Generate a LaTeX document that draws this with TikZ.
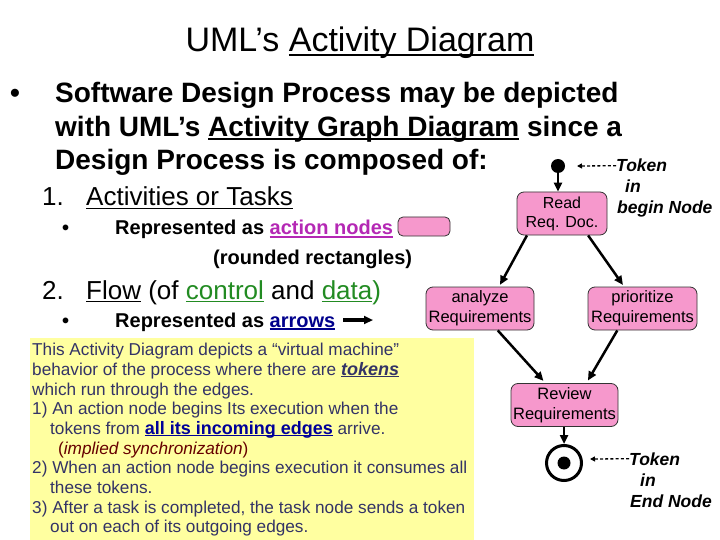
\documentclass[tikz,border=0pt]{standalone}
\usepackage{fontspec}
\setmainfont{Liberation Sans}
\usetikzlibrary{arrows.meta}

\definecolor{actpink}{RGB}{246,152,204}
\definecolor{noteyellow}{RGB}{255,255,160}
\definecolor{notetext}{RGB}{51,51,102}
\definecolor{actpurple}{RGB}{180,40,180}
\definecolor{flowgreen}{RGB}{34,139,34}
\definecolor{arrowblue}{RGB}{0,0,140}
\definecolor{edgeblue}{RGB}{0,0,153}
\definecolor{syncred}{RGB}{102,0,0}

% underline sitting just below the baseline
\newcommand{\ulw}[1]{\setbox0\hbox{#1}\rlap{\rule[-0.13em]{\wd0}{0.07em}}\box0\relax}
\newcommand{\fsz}[2]{\fontsize{#1}{#2}\selectfont}

\begin{document}
\begin{tikzpicture}[x=1pt, y=-1pt,
    txt/.style={anchor=base west, inner sep=0pt},
    note/.style={txt, font=\fsz{17.2}{19}, text=notetext},
    actnode/.style={draw=black!80, line width=0.8pt, fill=actpink, rounded corners=7pt,
                    align=center, minimum height=43pt, inner sep=1pt, font=\fsz{16.5}{20}},
    flow/.style={line width=2.5pt, -{Triangle[length=9pt,width=8pt]}},
    tokarrow/.style={line width=1.3pt, dash pattern=on 3pt off 2.2pt, -{Triangle[length=5pt,width=5pt]}},
    toklbl/.style={txt, font=\fsz{17.5}{20}\bfseries\itshape}]
\useasboundingbox (0,0) rectangle (720,540);

% title and bullets
\node[anchor=base, inner sep=0pt, font=\fsz{34}{36}] (title) at (360,52) {UML’s \ulw{Activity Diagram}};
\node[txt, font=\fsz{28}{30}\bfseries] (bul0) at (10,103) {•};
\node[txt, font=\fsz{28}{30}\bfseries] (intro1) at (55,103) {Software Design Process may be depicted};
\node[txt, font=\fsz{28}{30}\bfseries] (intro2) at (55,136.5) {with UML’s \ulw{Activity Graph Diagram} since a};
\node[txt, font=\fsz{28}{30}\bfseries] (intro3) at (55,170) {Design Process is composed of:};

\node[txt, font=\fsz{26}{28}] (num1) at (42,206) {1.};
\node[txt, font=\fsz{26}{28}] (item1) at (86,206) {\ulw{Activities or Tasks}};
\node[txt, font=\fsz{20}{22}\bfseries] (bul1) at (62,235) {•};
\node[txt, font=\fsz{20}{22}\bfseries] (rep1) at (115,235) {Represented as \textcolor{actpurple}{\ulw{action nodes}}};
\node[actnode, minimum width=52pt, minimum height=19pt, rounded corners=5pt] (legnode) at (424,226.5) {};
\node[txt, font=\fsz{20}{22}\bfseries] (rep1b) at (213,264) {(rounded rectangles)};

\node[txt, font=\fsz{26}{28}] (num2) at (42,299) {2.};
\node[txt, font=\fsz{26}{28}] (item2) at (86,299)
  {\ulw{Flow} (of \textcolor{flowgreen}{\ulw{control}} and \textcolor{flowgreen}{\ulw{data})}};
\node[txt, font=\fsz{20}{22}\bfseries] (bul2) at (62,327) {•};
\node[txt, font=\fsz{20}{22}\bfseries] (rep2) at (115,327) {Represented as \textcolor{arrowblue}{\ulw{arrows}}};
\coordinate (legA) at (343,320);
\coordinate (legB) at (373,320);
\draw[flow, line width=3.5pt] (legA) -- (legB);

% yellow note
\fill[noteyellow] (30,338) rectangle (474,540);
\node[note] (n1) at (32,355.5) {This Activity Diagram depicts a “virtual machine”};
\node[note] (n2) at (32,375) {behavior of the process where there are \ulw{\fsz{18}{19}\bfseries\itshape tokens}};
\node[note] (n3) at (32,395) {which run through the edges.};
\node[note] (n4) at (32,414.5) {1) An action node begins Its execution when the};
\node[note] (n5) at (50,434) {tokens from \textcolor{edgeblue}{\ulw{\fsz{18}{19}\bfseries all its incoming edges}} arrive.};
\node[note, text=syncred] (n6) at (58,454) {(\textit{implied synchronization})};
\node[note] (n7) at (32,473.5) {2) When an action node begins execution it consumes all};
\node[note] (n8) at (50,493) {these tokens.};
\node[note] (n9) at (32,513) {3) After a task is completed, the task node sends a token};
\node[note] (n10) at (50,532.5) {out on each of its outgoing edges.};

% activity graph
\node[circle, fill=black, inner sep=0pt, minimum size=14pt] (start) at (558,166) {};
\node[actnode, minimum width=90pt, font=\fsz{16}{19}] (read) at (562,213.5) {Read\\Req. Doc.};
\node[actnode, minimum width=108pt] (analyze) at (480,308.5) {analyze\\Requirements};
\node[actnode, minimum width=109pt] (prioritize) at (642.5,308.5) {prioritize\\Requirements};
\node[actnode, minimum width=107pt] (review) at (564.5,405) {Review\\Requirements};
\node[circle, draw=black, line width=3pt, minimum size=35pt, inner sep=0pt] (finish) at (564,463) {};
\node[circle, fill=black, minimum size=13pt, inner sep=0pt] (finishdot) at (finish) {};

\draw[flow] (start) -- (start |- read.north);
\draw[flow, shorten >=2pt] (read.212) -- (analyze.49);
\draw[flow, shorten >=2pt] (read.320) -- (prioritize.130);
\draw[flow, shorten >=3pt] (analyze.309) -- (review.131);
\draw[flow, shorten >=3pt] (prioritize.221) -- (review.45);
\draw[flow] (review.south -| finish) -- (finish.north);

% token labels
\node[toklbl] (tokbegin) at (616,172) {Token};
\node[toklbl] (tokbeginin) at (625,193) {in};
\node[toklbl] (tokbeginnode) at (617,214) {begin Node};
\coordinate (tokbeginend) at (577,166);
\draw[tokarrow] (tokbegin.west) -- (tokbeginend);

\node[toklbl] (tokend) at (629,465) {Token};
\node[toklbl] (tokendin) at (640,486) {in};
\node[toklbl] (tokendnode) at (630,507) {End Node};
\coordinate (tokendend) at (590,459);
\draw[tokarrow] (tokend.west) -- (tokendend);
\end{tikzpicture}
\end{document}
